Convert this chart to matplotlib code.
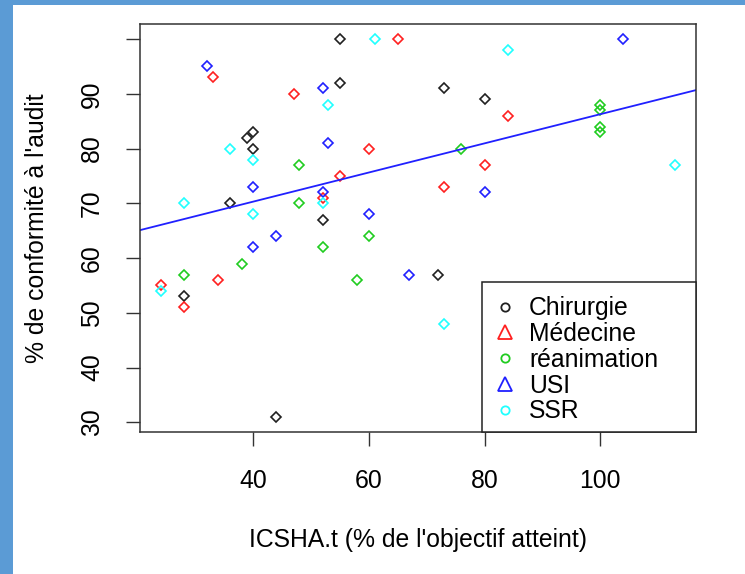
import numpy as np
import matplotlib
matplotlib.use("Agg")
import matplotlib.pyplot as plt
from matplotlib.lines import Line2D
from matplotlib.patches import Rectangle

plt.rcParams["font.family"] = ["Liberation Sans", "DejaVu Sans"]

# services and their points (ICSHA.t, % conformite)
services = ["Chirurgie", "Médecine", "réanimation", "USI", "SSR"]
colors = ["#202020", "#ff2020", "#20cc20", "#2020ff", "#20ffff"]
legend_markers = ["o", "^", "o", "^", "o"]

chir_x = [55, 55, 40, 39, 40, 36, 52, 73, 80, 72, 28, 44]
chir_y = [100, 92, 83, 82, 80, 70, 67, 91, 89, 57, 53, 31]
med_x = [65, 33, 47, 60, 55, 52, 84, 80, 73, 34, 24, 28]
med_y = [100, 93, 90, 80, 75, 71, 86, 77, 73, 56, 55, 51]
rea_x = [48, 48, 52, 60, 38, 28, 58, 76, 100, 100, 100, 100]
rea_y = [77, 70, 62, 64, 59, 57, 56, 80, 88, 87, 84, 83]
usi_x = [32, 52, 53, 40, 52, 60, 44, 40, 67, 104, 80]
usi_y = [95, 91, 81, 73, 72, 68, 64, 62, 57, 100, 72]
ssr_x = [61, 53, 36, 40, 52, 28, 40, 24, 73, 84, 113]
ssr_y = [100, 88, 80, 78, 70, 70, 68, 54, 48, 98, 77]

xs = [chir_x, med_x, rea_x, usi_x, ssr_x]
ys = [chir_y, med_y, rea_y, usi_y, ssr_y]

xticks = [40, 60, 80, 100]
yticks = [30, 40, 50, 60, 70, 80, 90, 100]
ytick_labels = ["30", "40", "50", "60", "70", "80", "90", ""]

FS = 17.8

fig = plt.figure(figsize=(7.45, 5.74), dpi=100)
fig.patch.set_facecolor("#5b9bd5")
bg = fig.add_axes([13 / 745, 0, 1 - 13 / 745, 1 - 5 / 574], zorder=-10)
bg.set_facecolor("white")
bg.set_axis_off()
bg.add_patch(Rectangle((0, 0), 1, 1, transform=bg.transAxes,
                       facecolor="white", edgecolor="none"))

ax = fig.add_axes([140 / 745, 1 - 432 / 574, 556 / 745, 408 / 574])

for sx, sy, c in zip(xs, ys, colors):
    ax.plot(sx, sy, linestyle="none", marker="D", markersize=5.6,
            markerfacecolor="none", markeredgecolor=c, markeredgewidth=1.2)

# regression line over all points
all_x = np.concatenate([np.array(v, float) for v in xs])
all_y = np.concatenate([np.array(v, float) for v in ys])
slope, intercept = np.polyfit(all_x, all_y, 1)

# R-style axis ranges (4% padding)
xr = all_x.max() - all_x.min()
yr = all_y.max() - all_y.min()
xlim = (all_x.min() - 0.04 * xr, all_x.max() + 0.04 * xr)
ylim = (all_y.min() - 0.04 * yr, all_y.max() + 0.04 * yr)
lx = np.array(xlim)
ax.plot(lx, intercept + slope * lx, color="#2020ff", lw=1.3)
ax.set_xlim(xlim)
ax.set_ylim(ylim)

ax.set_xticks(xticks)
ax.set_yticks(yticks)
ax.set_yticklabels(ytick_labels, rotation=90, va="center")
ax.tick_params(direction="out", length=10, width=1.0, labelsize=FS, color="#333333")
ax.tick_params(axis="x", pad=16.5)
ax.tick_params(axis="y", pad=16)
for sp in ax.spines.values():
    sp.set_color("#333333")
    sp.set_linewidth(1.1)

ax.set_xlabel("ICSHA.t (% de l'objectif atteint)", fontsize=FS, labelpad=25)
ax.set_ylabel("% de conformité à l'audit", fontsize=FS, labelpad=22)

# legend box (R style: flush with bottom-right corner, wide right margin)
ax.add_patch(Rectangle(((482 - 140) / 556, 0), 1 - (482 - 140) / 556, 150 / 408,
                       transform=ax.transAxes, facecolor="white",
                       edgecolor="#222222", lw=1.1, zorder=4, clip_on=False))
handles = [Line2D([], [], linestyle="none", marker=m, markerfacecolor="none",
                  markeredgecolor=c, markeredgewidth=1.3,
                  markersize=6 if m == "o" else 10)
           for m, c in zip(legend_markers, colors)]
leg = ax.legend(handles, services, loc="upper left",
                bbox_to_anchor=((492.6 - 140) / 556, (432 - 296.4) / 408),
                borderaxespad=0, borderpad=0, fontsize=FS, frameon=False,
                handlelength=1.0, handletextpad=0.47, labelspacing=0.07)
leg.set_zorder(5)

fig.savefig("out.png", dpi=100, facecolor=fig.get_facecolor())
